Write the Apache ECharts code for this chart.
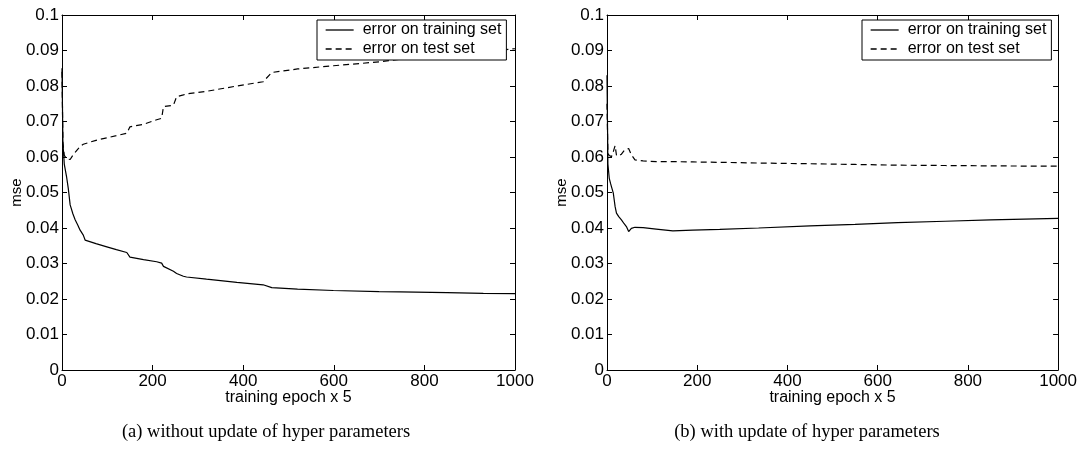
<!DOCTYPE html>
<html>
<head>
<meta charset="utf-8">
<script src="https://cdn.jsdelivr.net/npm/echarts@6/dist/echarts.min.js"></script>
<style>
html,body{margin:0;padding:0;background:#fff;}
#c{width:1080px;height:450px;}
</style>
</head>
<body>
<div id="c"></div>
<script>
// ---- data ----
const seriesNames = ['error on training set', 'error on test set'];
const xTicks = [0, 200, 400, 600, 800, 1000];
const yTicks = [0, 0.01, 0.02, 0.03, 0.04, 0.05, 0.06, 0.07, 0.08, 0.09, 0.1];

// (a) without update of hyper parameters
const epochA = [0, 2, 5, 10, 14, 18, 24, 29, 35, 40, 47, 51, 75, 99, 120, 143, 150, 180, 209, 220, 224, 227, 246, 253, 268, 275, 319, 386, 444, 463, 520, 599, 700, 746, 850, 930, 1000];
const trainA = [0.085, 0.064, 0.058, 0.0545, 0.051, 0.0465, 0.044, 0.0423, 0.0408, 0.0394, 0.038, 0.0366, 0.0356, 0.0347, 0.0339, 0.0331, 0.0318, 0.0311, 0.0305, 0.0301, 0.0292, 0.0287, 0.0278, 0.0272, 0.0264, 0.0262, 0.0256, 0.0247, 0.0240, 0.0232, 0.0228, 0.0224, 0.0221, 0.0220, 0.0218, 0.0216, 0.0215];
const testA  = [0.084, 0.064, 0.0605, 0.0595, 0.0592, 0.0593, 0.0605, 0.0613, 0.0622, 0.063, 0.0636, 0.064, 0.0647, 0.0654, 0.066, 0.0667, 0.0685, 0.0692, 0.0705, 0.0709, 0.0742, 0.0740, 0.0746, 0.0770, 0.0775, 0.0778, 0.0785, 0.0800, 0.0812, 0.0838, 0.0848, 0.0857, 0.0868, 0.0875, 0.0888, 0.0897, 0.0905];

// (b) with update of hyper parameters
const epochB = [0, 2, 5, 8, 10, 14, 18, 21, 26, 32, 38, 43, 48, 54, 62, 80, 109, 146, 190, 250, 336, 450, 550, 644, 750, 850, 1000];
const trainB = [0.083, 0.058, 0.054, 0.0525, 0.0516, 0.0498, 0.046, 0.0442, 0.0432, 0.0423, 0.0412, 0.0404, 0.039, 0.0399, 0.0402, 0.0401, 0.0397, 0.0392, 0.0394, 0.0396, 0.0400, 0.0406, 0.0410, 0.0415, 0.0419, 0.0423, 0.0427];
const testB  = [0.075, 0.061, 0.0604, 0.0602, 0.0601, 0.0615, 0.0632, 0.0605, 0.0603, 0.0608, 0.0618, 0.0622, 0.0624, 0.0606, 0.0592, 0.0589, 0.0587, 0.0587, 0.0586, 0.0585, 0.0583, 0.0581, 0.0579, 0.0577, 0.0576, 0.0575, 0.0574];

const captionA = '(a) without update of hyper parameters';
const captionB = '(b) with update of hyper parameters';

// ---- chart ----
const FONT = '"Liberation Sans", Arial, Helvetica, sans-serif';
const SERIF = '"Liberation Serif", "Times New Roman", serif';
const zip = (xs, ys) => xs.map((x, i) => [x, ys[i]]);

function xAxes(gi) {
  const common = {
    gridIndex: gi, type: 'value', min: xTicks[0], max: xTicks[xTicks.length - 1],
    interval: xTicks[1] - xTicks[0],
    axisLine: { show: true, onZero: false, lineStyle: { color: '#000', width: 1 } },
    axisTick: { show: true, inside: true, length: 5, lineStyle: { color: '#000', width: 1 } },
    splitLine: { show: false }
  };
  return [
    Object.assign({}, common, {
      position: 'bottom',
      axisLabel: { show: true, color: '#000', fontSize: 17, fontFamily: FONT, margin: 3,
        formatter: v => String(v) },
      name: 'training epoch x 5', nameLocation: 'middle', nameGap: 20, nameMoveOverlap: false,
      nameTextStyle: { color: '#000', fontSize: 16, fontFamily: FONT }
    }),
    Object.assign({}, common, { position: 'top', axisLabel: { show: false } })
  ];
}
function yAxes(gi) {
  const common = {
    gridIndex: gi, type: 'value', min: yTicks[0], max: yTicks[yTicks.length - 1],
    interval: yTicks[1] - yTicks[0],
    axisLine: { show: true, onZero: false, lineStyle: { color: '#000', width: 1 } },
    axisTick: { show: true, inside: true, length: 5, lineStyle: { color: '#000', width: 1 } },
    splitLine: { show: false }
  };
  return [
    Object.assign({}, common, {
      position: 'left',
      axisLabel: { show: true, color: '#000', fontSize: 17, fontFamily: FONT, margin: 3,
        formatter: v => String(+v.toFixed(2)) },
      name: 'mse', nameLocation: 'middle', nameGap: 38, nameRotate: 90, nameMoveOverlap: false,
      nameTextStyle: { color: '#000', fontSize: 15, fontFamily: FONT }
    }),
    Object.assign({}, common, { position: 'right', axisLabel: { show: false } })
  ];
}

function lineSeries(name, data, gi, dashed) {
  return {
    name: name, type: 'line', data: data,
    xAxisIndex: gi * 2, yAxisIndex: gi * 2,
    symbol: 'none', showSymbol: false, smooth: false, animation: false,
    lineStyle: { color: '#000', width: 1.2, type: dashed ? [6, 4] : 'solid' },
    itemStyle: { color: '#000' },
    z: 2
  };
}

function legendAt(left) {
  return {
    left: left, top: 20, orient: 'vertical', data: seriesNames,
    backgroundColor: '#fff', borderColor: '#000', borderWidth: 1, borderRadius: 0,
    padding: [2, 5, 3, 8], itemGap: 3, itemWidth: 28, itemHeight: 16,
    selectedMode: false,
    itemStyle: { color: 'rgba(0,0,0,0)', borderWidth: 0, opacity: 0 },
    lineStyle: { color: '#000', width: 1.3 },
    textStyle: { color: '#000', fontSize: 16, fontFamily: FONT, padding: [0, 0, 0, 4] },
    z: 10
  };
}

const chart = echarts.init(document.getElementById('c'), null, { renderer: 'canvas' });
chart.setOption({
  animation: false,
  backgroundColor: '#fff',
  grid: [
    { left: 62, right: 1080 - 515, top: 15, bottom: 450 - 370, containLabel: false },
    { left: 607, right: 1080 - 1062, top: 15, bottom: 450 - 370, containLabel: false }
  ],
  xAxis: xAxes(0).concat(xAxes(1)),
  yAxis: yAxes(0).concat(yAxes(1)),
  legend: [legendAt(317), legendAt(862)],
  series: [
    lineSeries(seriesNames[0], zip(epochA, trainA), 0, false),
    lineSeries(seriesNames[1], zip(epochA, testA), 0, true),
    lineSeries(seriesNames[0], zip(epochB, trainB), 1, false),
    lineSeries(seriesNames[1], zip(epochB, testB), 1, true)
  ],
  graphic: [
    { type: 'text', x: 266, y: 432, silent: true,
      style: { text: captionA, fill: '#000', font: '18.5px ' + SERIF, align: 'center', verticalAlign: 'middle' } },
    { type: 'text', x: 807, y: 432, silent: true,
      style: { text: captionB, fill: '#000', font: '18.5px ' + SERIF, align: 'center', verticalAlign: 'middle' } }
  ]
});
</script>
</body>
</html>
